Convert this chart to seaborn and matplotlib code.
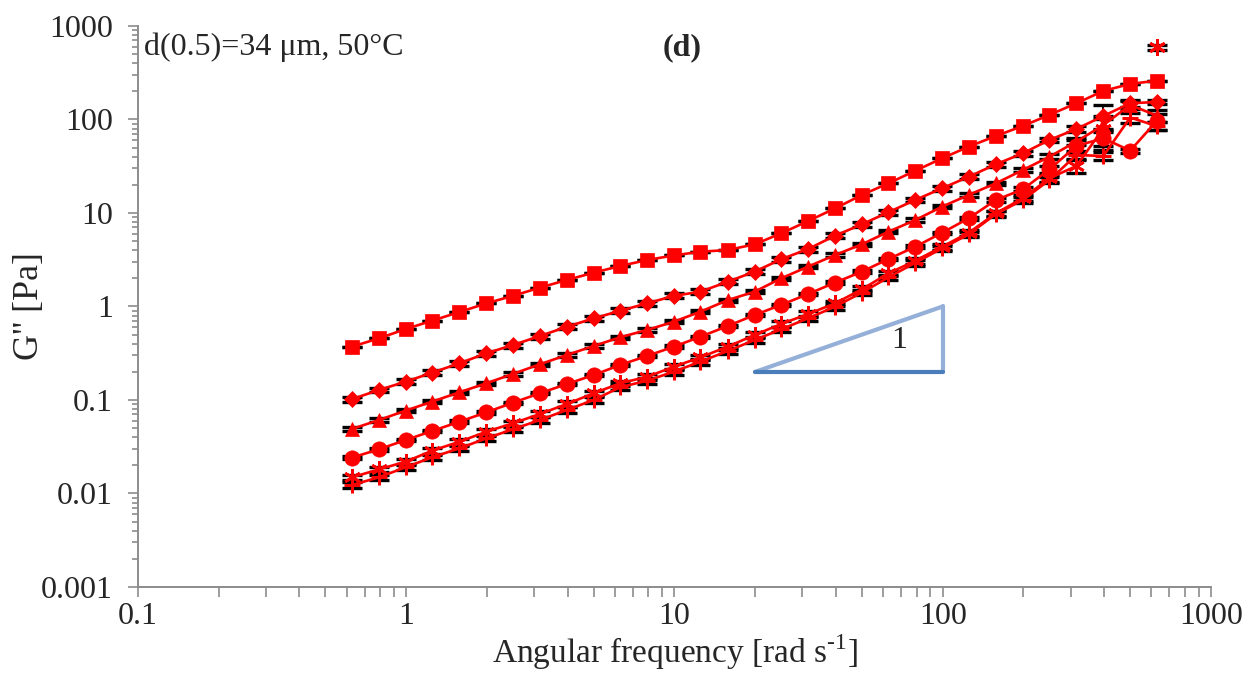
import numpy as np
import pandas as pd
import matplotlib
matplotlib.use('Agg')
import matplotlib.pyplot as plt
import seaborn as sns
from matplotlib.ticker import FixedLocator, NullFormatter

# angular frequency [rad/s]
omega = [0.628, 0.791, 0.996, 1.25, 1.58, 1.99, 2.5, 3.15, 3.97, 5.0,
         6.28, 7.91, 9.96, 12.5, 15.8, 19.9, 25.0, 31.5, 39.7, 50.0,
         62.8, 79.1, 99.6, 125, 158, 199, 250, 315, 397, 500, 628]

# G'' [Pa], one list per marker series
g_square = [0.372, 0.456, 0.574, 0.705, 0.873, 1.08, 1.30, 1.59, 1.92, 2.30,
            2.71, 3.14, 3.52, 3.85, 4.02, 4.62, 6.06, 8.2, 11.2, 15.6,
            20.8, 28.3, 38.5, 51.2, 66.7, 85.2, 112, 149, 202, 240, 260]
g_diamond = [0.102, 0.128, 0.157, 0.196, 0.247, 0.316, 0.387, 0.483, 0.607, 0.746,
             0.90, 1.08, 1.30, 1.44, 1.84, 2.36, 3.20, 4.12, 5.72, 7.57,
             10.2, 13.8, 18.4, 24.4, 33.2, 43.5, 60.4, 79.1, 109, 149, 154]
g_triangle = [0.049, 0.061, 0.077, 0.096, 0.121, 0.151, 0.190, 0.241, 0.303, 0.378,
              0.469, 0.561, 0.688, 0.880, 1.17, 1.44, 2.0, 2.67, 3.55, 4.63,
              6.31, 8.41, 11.7, 15.6, 20.8, 28.8, 40, 58, 87, 143, 110]
g_circle = [0.0242, 0.0297, 0.0373, 0.0466, 0.0586, 0.0738, 0.0935, 0.118, 0.148, 0.185,
            0.237, 0.296, 0.372, 0.475, 0.618, 0.811, 1.04, 1.36, 1.80, 2.36,
            3.22, 4.36, 6.15, 8.77, 13.8, 17.9, 29.3, 52.1, 63, 46.4, 96.4]
g_asterisk = [0.0149, 0.0181, 0.0219, 0.0287, 0.0358, 0.0458, 0.0563, 0.0708, 0.0906, 0.118,
              0.151, 0.177, 0.227, 0.286, 0.372, 0.496, 0.650, 0.831, 1.08, 1.53,
              2.26, 3.09, 4.36, 6.15, 9.93, 14.4, 23.5, 31.8, 80, np.nan, 590]
g_plus = [0.0123, 0.0149, 0.0191, 0.0244, 0.0304, 0.0389, 0.0486, 0.0611, 0.0782, 0.100,
          0.137, 0.161, 0.201, 0.257, 0.334, 0.438, 0.570, 0.748, 0.996, 1.41,
          2.05, 2.94, 4.19, 5.92, 9.75, 13.8, 22.5, 41.7, 40.7, 105, 85]

# relative error bars (fraction of value)
err_square = [0.0] * 31
err_diamond = [0.06, 0.06, 0.06, 0.06, 0.06, 0.06, 0.06, 0.06, 0.06, 0.06,
               0.06, 0.06, 0.06, 0.06, 0.06, 0.06, 0.06, 0.06, 0.06, 0.06,
               0.06, 0.06, 0.06, 0.06, 0.06, 0.06, 0.06, 0.08, 0.30, 0.08, 0.05]
err_triangle = [0.04, 0.04, 0.04, 0.04, 0.04, 0.04, 0.04, 0.04, 0.04, 0.04,
                0.04, 0.04, 0.04, 0.04, 0.04, 0.04, 0.04, 0.04, 0.04, 0.04,
                0.04, 0.04, 0.04, 0.04, 0.04, 0.04, 0.06, 0.08, 0.15, 0.10, 0.15]
err_circle = [0.03, 0.03, 0.03, 0.03, 0.03, 0.03, 0.03, 0.03, 0.03, 0.03,
              0.03, 0.03, 0.03, 0.03, 0.03, 0.03, 0.03, 0.03, 0.03, 0.03,
              0.03, 0.03, 0.03, 0.03, 0.04, 0.05, 0.08, 0.15, 0.25, 0.05, 0.20]
err_asterisk = [0.07, 0.07, 0.07, 0.07, 0.07, 0.07, 0.07, 0.07, 0.07, 0.07,
                0.07, 0.07, 0.07, 0.07, 0.07, 0.07, 0.07, 0.07, 0.07, 0.07,
                0.07, 0.07, 0.07, 0.07, 0.07, 0.07, 0.08, 0.15, 0.35, 0.0, 0.06]
err_plus = [0.07, 0.07, 0.07, 0.07, 0.07, 0.07, 0.07, 0.07, 0.07, 0.07,
            0.07, 0.07, 0.07, 0.07, 0.07, 0.07, 0.07, 0.07, 0.07, 0.07,
            0.07, 0.07, 0.07, 0.07, 0.07, 0.07, 0.08, 0.10, 0.10, 0.12, 0.10]

# slope-1 guide triangle
slope_w = [20, 100, 100]
slope_g = [0.2, 0.2, 1.0]

x_ticks = [0.1, 1, 10, 100, 1000]
x_ticklabels = ['0.1', '1', '10', '100', '1000']
y_ticks = [0.001, 0.01, 0.1, 1, 10, 100, 1000]
y_ticklabels = ['0.001', '0.01', '0.1', '1', '10', '100', '1000']

sns.set_style('white')
plt.rcParams['font.family'] = ['Liberation Serif', 'DejaVu Serif']
plt.rcParams['mathtext.fontset'] = 'custom'
plt.rcParams['mathtext.rm'] = 'Liberation Serif'

fig = plt.figure(figsize=(12.52, 6.75), dpi=100)
ax = fig.add_axes([0.1102, 0.1304, 0.857, 0.8311])

series = [
    (g_square, err_square, 's', 10.5, 0.5),
    (g_diamond, err_diamond, 'D', 8.5, 0.5),
    (g_triangle, err_triangle, '^', 10.5, 0.5),
    (g_circle, err_circle, 'o', 11.0, 0.5),
    (g_asterisk, err_asterisk, (6, 2, 0), 12.0, 2.0),
    (g_plus, err_plus, '+', 12.0, 2.2),
]

for vals, err, mk, ms, mew in series:
    v = np.array(vals, dtype=float)
    ax.errorbar(omega, v, yerr=v * np.array(err), fmt='none', ecolor='black',
                elinewidth=1.3, capsize=7, capthick=2.4, zorder=2)
    df = pd.DataFrame({'w': omega, 'g': v})
    df['seg'] = df['g'].isna().cumsum()
    df = df.dropna()
    sns.lineplot(data=df, x='w', y='g', units='seg', estimator=None, ax=ax,
                 color='#ff0000', linewidth=1.9, marker=mk, markersize=ms,
                 markeredgecolor='#ff0000', markeredgewidth=mew,
                 markerfacecolor='#ff0000', zorder=3)

# guide triangle
ax.plot([slope_w[0], slope_w[2]], [slope_g[0], slope_g[2]], color='#95b0d8', lw=3, zorder=1)
ax.plot(slope_w[1:], slope_g[1:], color='#95b0d8', lw=3, zorder=1)
ax.plot(slope_w[:2], slope_g[:2], color='#4a7ebb', lw=3, zorder=1)
ax.text(69, 0.43, '1', fontsize=23, ha='center', va='center')

ax.set_xscale('log')
ax.set_yscale('log')
ax.set_xlim(0.1, 1000)
ax.set_ylim(0.001, 1000)

ax.xaxis.set_major_locator(FixedLocator(x_ticks))
ax.set_xticklabels(x_ticklabels)
ax.yaxis.set_major_locator(FixedLocator(y_ticks))
ax.set_yticklabels(y_ticklabels)
ax.xaxis.set_minor_formatter(NullFormatter())
ax.yaxis.set_minor_formatter(NullFormatter())

axis_grey = '#8c8c8c'
for side in ['top', 'right']:
    ax.spines[side].set_visible(False)
for side in ['left', 'bottom']:
    ax.spines[side].set_color(axis_grey)
    ax.spines[side].set_linewidth(1.4)
ax.tick_params(axis='both', which='both', direction='out', color=axis_grey,
               width=1.2, labelsize=23, bottom=True, left=True)
ax.tick_params(axis='x', which='major', length=7, pad=4)
ax.tick_params(axis='x', which='minor', length=7)
ax.tick_params(axis='y', which='major', length=7, pad=11)
ax.tick_params(axis='y', which='minor', length=4)

ax.set_xlabel('Angular frequency [rad s$^{\\text{-1}}$]', fontsize=24)
ax.xaxis.label.set_va('center')
ax.xaxis.set_label_coords(0.5, -0.117)
ax.set_ylabel("G'' [Pa]", fontsize=26)
ax.yaxis.label.set_va('center')
ax.yaxis.set_label_coords(-0.1007, 0.5)

ax.text(0.105, 590, 'd(0.5)=34 \u03bcm, 50\u00b0C', fontsize=23, ha='left', va='center')
ax.text(10.7, 590, '(d)', fontsize=23, fontweight='bold', ha='center', va='center')

fig.savefig('out.png', dpi=100)
